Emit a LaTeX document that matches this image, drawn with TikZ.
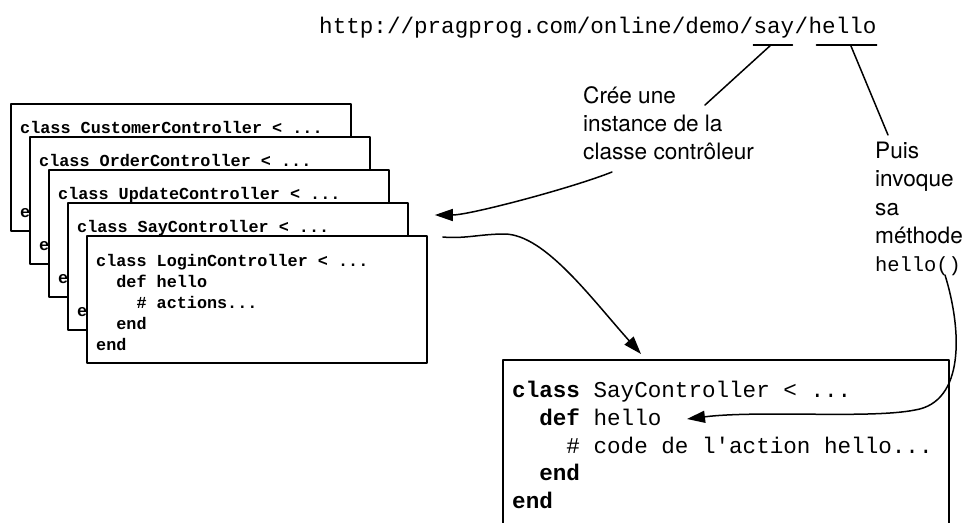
\documentclass[tikz,border=0pt]{standalone}
\usepackage{fontspec}
\setmainfont{TeX Gyre Heros}
\newfontfamily\codefont{Liberation Mono}
\usetikzlibrary{arrows.meta,calc}
\tikzset{
 codebox/.style={draw,line width=1.8pt,fill=white,anchor=north west,inner sep=0pt,
  minimum width=340pt,minimum height=127pt},
 codetext/.style={anchor=north west,inner sep=0pt,align=left,
  font=\fontsize{16.8}{21}\codefont\bfseries},
 bigbox/.style={draw,line width=1.8pt,anchor=north west,inner sep=0pt,
  minimum width=446pt,minimum height=200pt},
 bigtext/.style={anchor=north west,inner sep=0pt,align=left,
  font=\fontsize{22.6}{27.8}\codefont},
 urltext/.style={anchor=base west,inner sep=0pt,font=\fontsize{22.6}{27.8}\codefont},
 note/.style={anchor=north west,inner sep=0pt,align=left,
  font=\fontsize{22.6}{28.3}\selectfont},
 link/.style={line width=1.5pt},
 arrow/.style={link,-{Triangle[length=18pt,width=12pt]}}
}
\newcommand\indtwo{\hphantom{xx}}
\begin{document}
\begin{tikzpicture}[x=1pt,y=-1pt,line cap=round,line join=round]
 \useasboundingbox (0,0) rectangle (965,522);
 \clip (0,0) rectangle (965,522);
 \node[urltext] (urlhead) at (319,33) {http://pragprog.com/online/demo/};
 \node[urltext] (saypart) at (urlhead.base east) {say};
 \node[urltext] (slash) at (saypart.base east) {/};
 \node[urltext] (hellopart) at (slash.base east) {hello};
 \draw[link] ($(saypart.base west)+(0,12)$) -- ($(saypart.base east)+(-2,12)$);
 \draw[link] ($(hellopart.base west)+(8,12)$) -- ($(hellopart.base east)+(0,12)$);
 \coordinate (saymark) at ($(saypart.base)+(-3,12)$);
 \coordinate (hellomark) at ($(hellopart.base)+(8,12)$);

 \node[note] (creer) at (583,86) {Crée une\\instance de la\\classe contrôleur};
 \node[note] (puis) at (875,142)
  {Puis\\invoque\\sa\\méthode\\{\fontsize{20.4}{28.3}\codefont hello()}};
 \coordinate (creertop) at (705,105);
 \coordinate (puistop) at (888,135);
 \draw[link] (saymark) -- (creertop);
 \draw[link] (hellomark) -- (puistop);

 \node[codebox] (customer) at (10,103) {};
 \node[codetext] (customertext) at ($(customer.north west)+(10,18)$)
  {class CustomerController < ...\\[63pt]end};
 \node[codebox] (order) at (29,136) {};
 \node[codetext] (ordertext) at ($(order.north west)+(10,18)$)
  {class OrderController < ...\\[63pt]end};
 \node[codebox] (update) at (48,169) {};
 \node[codetext] (updatetext) at ($(update.north west)+(10,18)$)
  {class UpdateController < ...\\[63pt]end};
 \node[codebox] (say) at (67,202) {};
 \node[codetext] (saytext) at ($(say.north west)+(10,18)$)
  {class SayController < ...\\[63pt]end};
 \node[codebox] (login) at (86,235) {};
 \node[codetext] (logintext) at ($(login.north west)+(10,19)$)
  {class LoginController < ...\\\indtwo def hello\\\indtwo\indtwo\# actions...\\\indtwo end\\end};

 \node[bigbox] (sayfull) at (502,359) {};
 \node[bigtext] (sayfulltext) at ($(sayfull.north west)+(10,22)$)
  {\textbf{class} SayController < ...\\
   \indtwo\textbf{def} hello\\
   \indtwo\indtwo\# code de l\textquotesingle action hello...\\
   \indtwo\textbf{end}\\
   \textbf{end}};

 \coordinate (creerfoot) at (612,172);
 \coordinate (saytip) at ($(say.north east)+(26,13)$);
 \draw[arrow] (creerfoot) .. controls (572,188) and (470,215) .. (saytip);
 \coordinate (loginout) at ($(login.north east)+(15,2)$);
 \coordinate (bigtip) at ($(sayfull.north west)+(139,-5)$);
 \draw[arrow] (loginout) .. controls (465,239) and (480,234) .. (505,234)
  .. controls (545,235) and (591,298) .. (bigtip);
 \coordinate (puisfoot) at (945,275);
 \coordinate (hellotip) at (687,419);
 \draw[arrow] (puisfoot) .. controls (962,330) and (965,402) .. (915,410)
  .. controls (870,419) and (760,410) .. (hellotip);
\end{tikzpicture}
\end{document}
